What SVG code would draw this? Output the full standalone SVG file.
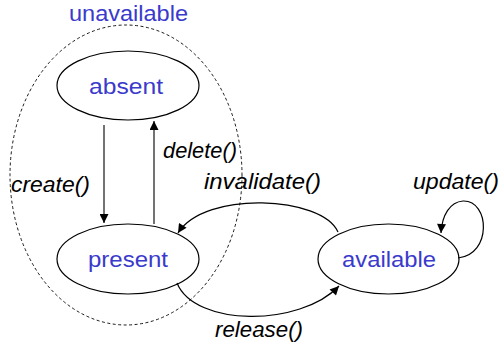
<svg xmlns="http://www.w3.org/2000/svg" width="499" height="346" viewBox="0 0 499 346">
  <defs>
    <marker id="arrow" viewBox="0 0 10 10" refX="10" refY="5" markerWidth="10" markerHeight="9" markerUnits="userSpaceOnUse" orient="auto">
      <path d="M0,0 L10,5 L0,10 z" fill="#000"/>
    </marker>
  </defs>
  <style>
    .state { fill: #fff; stroke: #000; stroke-width: 1.2; }
    .name { font-family: "Liberation Sans", Arial, sans-serif; font-size: 22px; fill: #3a3acc; }
    .event { font-family: "Liberation Sans", Arial, sans-serif; font-size: 22px; font-style: italic; fill: #000; }
    .edge { fill: none; stroke: #000; stroke-width: 1.2; marker-end: url(#arrow); }
    .vedge { fill: none; stroke: #444; stroke-width: 1.5; marker-end: url(#arrow); }
    .group { fill: none; stroke: #000; stroke-width: 0.9; stroke-dasharray: 3 2.5; }
  </style>
  <rect width="499" height="346" fill="#fff"/>

  <!-- composite state boundary -->
  <g id="unavailable">
    <ellipse class="group" cx="126" cy="175" rx="116" ry="150"/>
    <text class="name" x="69" y="21" textLength="119" lengthAdjust="spacingAndGlyphs">unavailable</text>
  </g>

  <g id="absent">
    <ellipse class="state" cx="128" cy="85.5" rx="71" ry="34.5"/>
    <text class="name" x="89" y="94" textLength="74" lengthAdjust="spacingAndGlyphs">absent</text>
  </g>

  <g id="present">
    <ellipse class="state" cx="128" cy="259" rx="71" ry="35"/>
    <text class="name" x="88" y="267" textLength="80" lengthAdjust="spacingAndGlyphs">present</text>
  </g>

  <g id="available">
    <ellipse class="state" cx="388.5" cy="259" rx="70.5" ry="35"/>
    <text class="name" x="342" y="267" textLength="94" lengthAdjust="spacingAndGlyphs">available</text>
  </g>

  <!-- transitions -->
  <g id="connectors">
    <path class="vedge" d="M104,125 L104,223"/>
    <path class="vedge" d="M154,224 L154,121"/>
    <path class="edge" d="M338,232 C322,196 205,190 178,233"/>
    <path class="edge" d="M177,283 C195,327 300,327 339,286"/>
    <path class="edge" d="M458,258 C492,255 490,200 463,201 C450,202 442,215 441,233"/>
  </g>

  <g id="labels">
    <text class="event" x="11" y="192" textLength="79" lengthAdjust="spacingAndGlyphs">create()</text>
    <text class="event" x="163" y="158" textLength="74" lengthAdjust="spacingAndGlyphs">delete()</text>
    <text class="event" x="204" y="189" textLength="117" lengthAdjust="spacingAndGlyphs">invalidate()</text>
    <text class="event" x="215" y="337" textLength="88" lengthAdjust="spacingAndGlyphs">release()</text>
    <text class="event" x="413" y="189" textLength="86" lengthAdjust="spacingAndGlyphs">update()</text>
  </g>
</svg>
